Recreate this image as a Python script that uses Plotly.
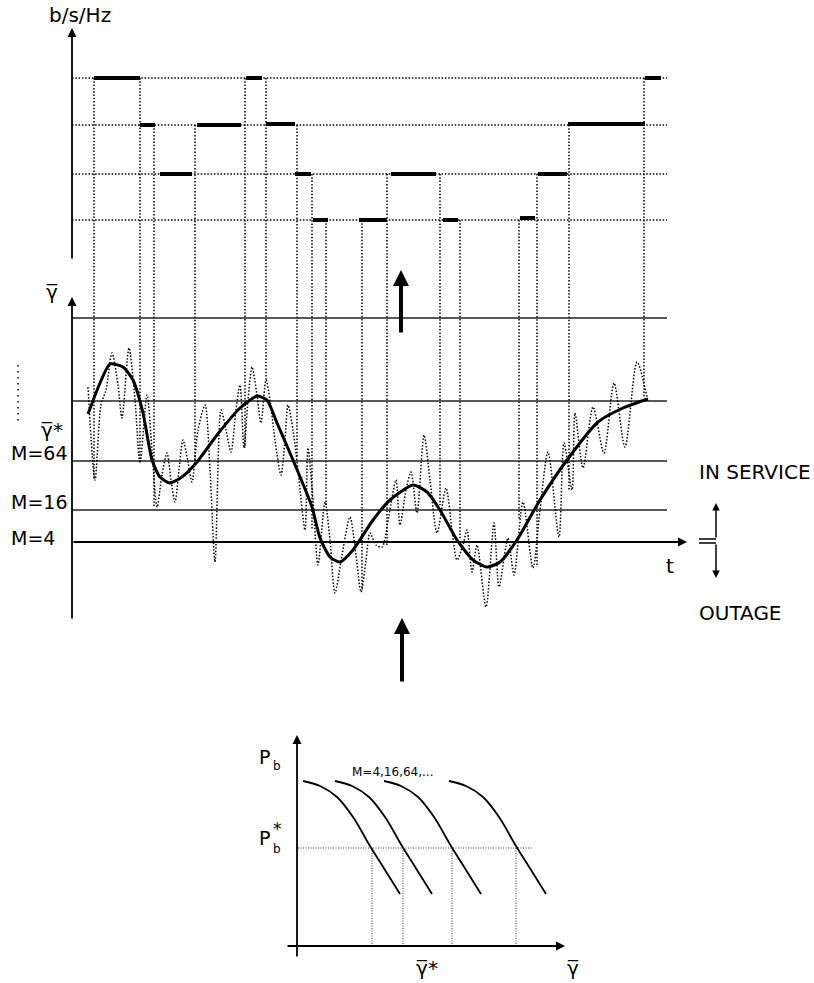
import plotly.graph_objects as go

# ---------------- data (canvas units) ----------------
# b/s/Hz levels (vertical position of each dotted level line, top panel)
RATE_LEVELS = [78, 125, 174, 220]
LEVEL_X = [72, 667]

# thick rate segments: (t_start, t_end, level)
RATE_SEG_T0 = [94, 140, 160, 197, 246, 266, 295, 313, 359, 391, 443, 520, 538, 568, 645]
RATE_SEG_T1 = [140, 155, 192, 241, 262, 295, 311, 328, 387, 436, 458, 535, 567, 645, 661]
RATE_SEG_LV = [78, 125, 174, 125, 78, 124, 174, 220, 220, 174, 220, 218, 174, 124, 78]

# switching instants: dotted drop lines (t, top, bottom)
SWITCH_T = [94, 140, 154, 195, 245, 266, 297, 312, 326, 362, 387, 440, 460, 519, 537, 569, 644]
SWITCH_TOP = [78, 78, 125, 125, 78, 78, 125, 174, 220, 220, 174, 174, 220, 220, 174, 125, 78]
SWITCH_BOT = [480, 463, 507, 460, 448, 380, 457, 530, 505, 590, 547, 505, 540, 520, 567, 490, 397]

# SNR thresholds (middle panel)
THRESH_Y = [318, 401, 461, 510]
M4_Y = 542
THRESH_X = [72, 667]

# average SNR (thick curve)
AVG_T = [88, 100, 110, 123, 133, 143, 152, 160, 170, 182, 197, 217, 240, 257, 267, 277, 293,
         312, 320, 330, 340, 353, 373, 390, 413, 427, 440, 457, 473, 487, 500, 517, 540, 567,
         598, 623, 648]
AVG_G = [414, 383, 364, 367, 380, 413, 460, 477, 483, 477, 462, 435, 408, 396, 400, 423, 460,
         507, 538, 557, 562, 550, 520, 500, 485, 492, 510, 540, 560, 567, 562, 540, 500, 460,
         422, 408, 399]

# instantaneous SNR (dotted fading curve)
INST_T = [88, 95, 101, 106, 112, 118, 122, 129, 135, 140, 147, 152, 157, 162, 167, 171, 175,
          179, 183, 188, 192, 198, 205, 210, 215, 221, 226, 231, 236, 240, 244, 248, 252, 257,
          261, 266, 270, 275, 281, 285, 288, 293, 298, 305, 308, 313, 318, 325, 330, 335, 342,
          350, 356, 361, 366, 370, 376, 382, 389, 396, 400, 406, 411, 417, 424, 430, 437, 446,
          452, 457, 463, 467, 472, 477, 486, 494, 499, 508, 514, 523, 533, 540, 548, 559, 564,
          572, 575, 583, 593, 604, 614, 625, 637, 647]
INST_G = [387, 480, 405, 390, 353, 385, 418, 348, 400, 463, 395, 450, 507, 475, 453, 480, 502,
          470, 440, 462, 482, 430, 405, 470, 562, 410, 430, 452, 410, 385, 448, 400, 367, 395,
          423, 380, 400, 440, 475, 440, 405, 430, 470, 530, 448, 500, 565, 502, 540, 593, 555,
          517, 555, 592, 560, 533, 545, 547, 515, 480, 525, 490, 472, 513, 435, 480, 533, 488,
          530, 560, 545, 530, 572, 545, 607, 523, 587, 538, 575, 502, 568, 510, 452, 537, 443,
          490, 413, 468, 407, 453, 383, 447, 362, 397]

# BER curves (bottom panel): start abscissa of each M curve and common curve profile
PB_START_X = [303, 335, 384, 449]
PB_START_Y = 781
PB_PROFILE_DX = [0, 17, 34, 50, 67, 82, 97]
PB_PROFILE_DY = [0, 5, 16, 36, 65, 89, 113]
PB_TARGET_Y = 848
PB_CROSS_X = [372, 403, 452, 516]
PB_TARGET_X = [298, 532]
PB_AXIS_Y = 946

FONT = "DejaVu Sans, Verdana, sans-serif"
GBAR = "\u03b3\u0305"
DOT = "1.5px,1.8px"

fig = go.Figure()


def segs(xs0, ys0, xs1, ys1):
    X, Y = [], []
    for a, b, c, d in zip(xs0, ys0, xs1, ys1):
        X += [a, c, None]
        Y += [b, d, None]
    return X, Y


# level dotted lines
X, Y = segs([LEVEL_X[0]] * 4, RATE_LEVELS, [LEVEL_X[1]] * 4, RATE_LEVELS)
fig.add_trace(go.Scatter(x=X, y=Y, mode="lines", line=dict(color="black", width=1.5, dash=DOT)))

# switching drop lines
X, Y = segs(SWITCH_T, SWITCH_TOP, SWITCH_T, SWITCH_BOT)
fig.add_trace(go.Scatter(x=X, y=Y, mode="lines", line=dict(color="black", width=1.5, dash=DOT)))

# rate segments
X, Y = segs(RATE_SEG_T0, RATE_SEG_LV, RATE_SEG_T1, RATE_SEG_LV)
fig.add_trace(go.Scatter(x=X, y=Y, mode="lines", line=dict(color="black", width=4)))

# thresholds
X, Y = segs([THRESH_X[0]] * 4, THRESH_Y, [THRESH_X[1]] * 4, THRESH_Y)
fig.add_trace(go.Scatter(x=X, y=Y, mode="lines", line=dict(color="#222", width=1.6)))

# instantaneous SNR
fig.add_trace(go.Scatter(x=INST_T, y=INST_G, mode="lines",
                         line=dict(color="black", width=1.5, dash=DOT, shape="spline", smoothing=0.8)))
# average SNR
fig.add_trace(go.Scatter(x=AVG_T, y=AVG_G, mode="lines",
                         line=dict(color="black", width=3, shape="spline", smoothing=0.6)))

# BER curves
for sx in PB_START_X:
    fig.add_trace(go.Scatter(x=[sx + d for d in PB_PROFILE_DX], y=[PB_START_Y + d for d in PB_PROFILE_DY],
                             mode="lines", line=dict(color="black", width=1.8, shape="spline")))
# target BER dotted line + drops
X, Y = segs([PB_TARGET_X[0]] + PB_CROSS_X, [PB_TARGET_Y] * 5,
            [PB_TARGET_X[1]] + PB_CROSS_X, [PB_TARGET_Y] + [PB_AXIS_Y] * 4)
fig.add_trace(go.Scatter(x=X, y=Y, mode="lines", line=dict(color="#333", width=1, dash="1px,1.5px")))

# small dotted tick mark left of gamma axis
fig.add_trace(go.Scatter(x=[18, 18], y=[365, 422], mode="lines",
                         line=dict(color="black", width=1.5, dash="1.5px,4.5px")))

ann = []


def arrow(x0, y0, x1, y1, w=1.8, size=1.0):
    ann.append(dict(x=x1, y=y1, ax=x0, ay=y0, xref="x", yref="y", axref="x", ayref="y",
                    text="", showarrow=True, arrowhead=2, arrowwidth=w, arrowsize=size,
                    arrowcolor="black"))


# axes
arrow(72, 260, 72, 28)
arrow(72, 620, 72, 297)
arrow(THRESH_X[0], M4_Y, 687, M4_Y)
arrow(297, 958, 297, 735)
arrow(286, PB_AXIS_Y, 565, PB_AXIS_Y)
# big arrows
arrow(401, 334, 401, 270, w=4, size=0.8)
arrow(402, 683, 402, 618, w=4, size=0.8)
# in service / outage symbol
fig.add_trace(go.Scatter(x=[699, 716, None, 699, 716], y=[539, 539, None, 543, 543], mode="lines",
                         line=dict(color="black", width=1.5)))
arrow(716, 539, 716, 503, w=1.5)
arrow(716, 543, 716, 578, w=1.5)


def txt(x, y, s, size=19, xanchor="center"):
    ann.append(dict(x=x, y=y, xref="x", yref="y", text=s, showarrow=False, xanchor=xanchor,
                    yanchor="middle", font=dict(family=FONT, size=size, color="black")))


txt(80, 15, "b/s/Hz", size=20)
txt(52, 292, GBAR, size=20)
txt(52, 430, GBAR + "*", size=20)
txt(9, 453, "M=64", xanchor="left")
txt(9, 502, "M=16", xanchor="left")
txt(9, 538, "M=4", xanchor="left")
txt(670, 566, "t", size=20)
txt(697, 472, "IN SERVICE", size=20, xanchor="left")
txt(697, 613, "OUTAGE", size=20, xanchor="left")
txt(392, 772, "M=4,16,64,...", size=12)
txt(257, 757, "P", xanchor="left")
txt(271, 766, "b", size=12, xanchor="left")
txt(257, 838, "P", xanchor="left")
txt(271, 849, "b", size=12, xanchor="left")
txt(271, 829, "*", size=17, xanchor="left")
txt(427, 968, GBAR + "*", size=20)
txt(573, 968, GBAR, size=20)

fig.update_layout(
    width=814, height=983, margin=dict(l=0, r=0, t=0, b=0),
    paper_bgcolor="white", plot_bgcolor="white", showlegend=False,
    xaxis=dict(range=[0, 814], visible=False, fixedrange=True),
    yaxis=dict(range=[983, 0], visible=False, fixedrange=True),
    annotations=ann,
)
fig.write_html("out.html")
